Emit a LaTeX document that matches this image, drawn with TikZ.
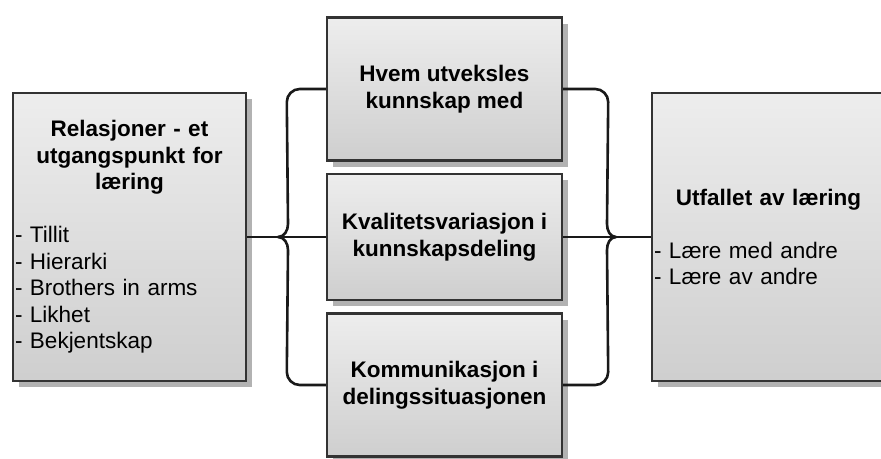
\documentclass[tikz,border=0pt]{standalone}
\usepackage{fontspec}
\setmainfont{Liberation Sans}
\usetikzlibrary{shadows,calc}

\begin{document}
\begin{tikzpicture}[
    x=1pt, y=-1pt,
    node distance=148pt,
    box/.style={rectangle, draw=black!80, line width=2.4pt, top color=black!7, bottom color=black!19,
        drop shadow={shadow xshift=6pt, shadow yshift=-6pt, fill=black!30, opacity=1},
        font=\fontsize{22.5}{26.5}\selectfont},
    midbox/.style={box, minimum width=235pt, minimum height=143pt, align=center, font=\fontsize{22.5}{26.5}\selectfont\bfseries},
    sidebox/.style={box, minimum width=233pt, minimum height=288pt, text width=229pt, inner xsep=2pt, align=left},
    conn/.style={line width=2.6pt, black!90}
]
\useasboundingbox (0,0) rectangle (881,458);

% Nodes
\node (rel) [sidebox] at (129.5,237) {{\centering\bfseries Relasjoner - et\\ utgangspunkt for\\ læring\par}
    \vspace{\baselineskip}
    - Tillit\\ - Hierarki\\ - Brothers in arms\\ - Likhet\\ - Bekjentskap};
\node (hvem) [midbox] at (444.5,89) {Hvem utveksles\\ kunnskap med};
\node (kval) [midbox, below of=hvem, minimum height=126pt] {Kvalitetsvariasjon i\\ kunnskapsdeling};
\node (komm) [midbox, below of=kval] {Kommunikasjon i\\ delingssituasjonen};
\node (utfall) [sidebox] at (768.5,237) {{\centering\bfseries Utfallet av læring\par}
    \vspace{\baselineskip}
    - Lære med andre\\ - Lære av andre};

\coordinate (ltip) at (278,237);
\coordinate (rtip) at (616,237);

% Braces
\draw [conn] (rel.east) -- (kval.west);
\draw [conn] (hvem.west) -- ++(-26,0) to[out=180,in=90] ++(-13,13) -- ($(ltip)+(10,-13)$) to[out=-90,in=0] (ltip);
\draw [conn] (komm.west) -- ++(-26,0) to[out=180,in=-90] ++(-13,-13) -- ($(ltip)+(10,13)$) to[out=90,in=0] (ltip);
\draw [conn] (kval.east) -- (utfall.west);
\draw [conn] (hvem.east) -- ++(32,0) to[out=0,in=90] ++(13,13) -- ($(rtip)+(-9,-13)$) to[out=-90,in=180] (rtip);
\draw [conn] (komm.east) -- ++(32,0) to[out=0,in=-90] ++(13,-13) -- ($(rtip)+(-9,13)$) to[out=90,in=180] (rtip);

\end{tikzpicture}
\end{document}
